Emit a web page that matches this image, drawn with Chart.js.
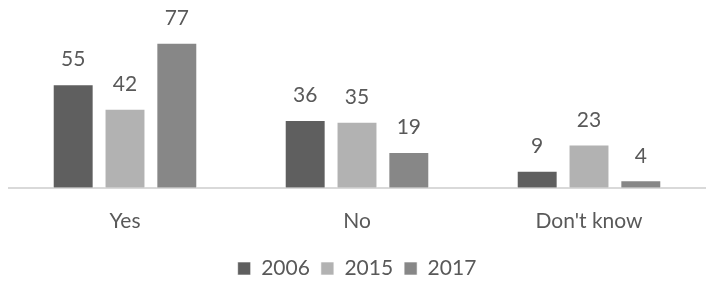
<!DOCTYPE html>
<html>
<head>
<meta charset="utf-8">
<script src="https://cdn.jsdelivr.net/npm/chart.js@4/dist/chart.umd.min.js"></script>
<style>
  html, body { margin: 0; padding: 0; background: #fff; }
  canvas { display: block; }
</style>
</head>
<body>
<canvas id="chart" width="711" height="282"></canvas>
<script>
  // categories and series
  const CATEGORIES = ["Yes", "No", "Don't know"];
  const SERIES_NAMES = ["2006", "2015", "2017"];
  const VALUES_2006 = [55, 36, 9];
  const VALUES_2015 = [42, 35, 23];
  const VALUES_2017 = [77, 19, 4];

  const COLORS = ["#5f5f5f", "#b2b2b2", "#878787"];
  const TEXT = "#595959";
  const FONT = "Lato, 'Open Sans', sans-serif";

  // draw value labels above each bar
  const barLabels = {
    id: "barLabels",
    afterDatasetsDraw(chart) {
      const c = chart.ctx;
      c.save();
      c.font = `21px ${FONT}`;
      c.fillStyle = TEXT;
      c.textAlign = "center";
      c.textBaseline = "bottom";
      chart.data.datasets.forEach((ds, i) => {
        const meta = chart.getDatasetMeta(i);
        meta.data.forEach((bar, j) => {
          c.fillText(String(ds.data[j]), bar.x, bar.y - 14);
        });
      });
      c.restore();
    },
  };

  const seriesData = [VALUES_2006, VALUES_2015, VALUES_2017];

  new Chart(document.getElementById("chart"), {
    type: "bar",
    data: {
      labels: CATEGORIES,
      datasets: SERIES_NAMES.map((name, i) => ({
        label: name,
        data: seriesData[i],
        backgroundColor: COLORS[i],
        borderColor: "rgba(255,255,255,0.6)",
        borderWidth: 1,
        categoryPercentage: 0.67,
        barPercentage: 0.79,
      })),
    },
    options: {
      responsive: false,
      animation: false,
      layout: { padding: { left: 9, right: 6, top: 37, bottom: -7 } },
      plugins: {
        tooltip: { enabled: false },
        legend: {
          position: "bottom",
          labels: {
            color: TEXT,
            font: { family: FONT, size: 21 },
            boxWidth: 13,
            boxHeight: 13,
            padding: 11,
          },
        },
      },
      scales: {
        x: {
          grid: { display: false },
          border: { color: "#d9d9d9", width: 2 },
          ticks: { color: TEXT, font: { family: FONT, size: 21 }, padding: 13 },
        },
        y: {
          display: false,
          min: 0,
          max: 80,
        },
      },
    },
    plugins: [barLabels],
  });
</script>
</body>
</html>
